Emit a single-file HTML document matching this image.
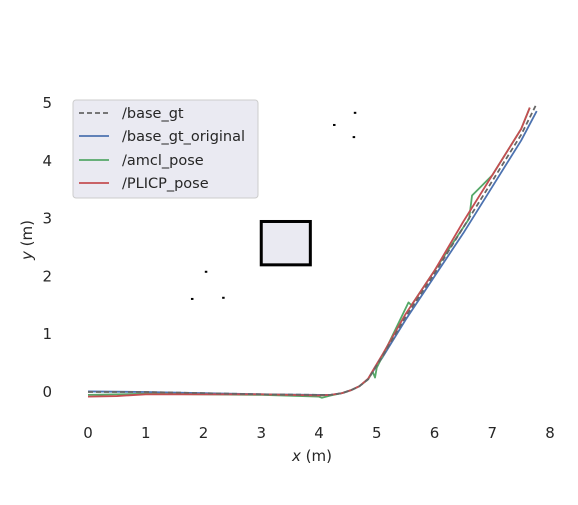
<!DOCTYPE html>
<html><head><meta charset="utf-8"><style>
body{margin:0;background:#fff;}
svg{display:block;font-family:"DejaVu Sans","Liberation Sans",sans-serif;}
</style></head><body>
<svg id="chart" width="578" height="505">
<g id="plot"></g>
<g id="ticks"></g>
<text x="312" y="461" text-anchor="middle" font-size="15" fill="#262626"><tspan font-style="italic">x</tspan> (m)</text>
<text transform="translate(32,240) rotate(-90)" text-anchor="middle" font-size="15" fill="#262626"><tspan font-style="italic">y</tspan> (m)</text>
<g>
<rect x="73" y="100" width="185" height="98" rx="3" fill="#eaeaf2" stroke="#cccccc"/>
<line x1="79" y1="113" x2="109" y2="113" stroke="#666" stroke-width="1.8" stroke-dasharray="5,3"/>
<text x="122" y="118" font-size="14.5" fill="#262626">/base_gt</text>
<line x1="79" y1="136" x2="109" y2="136" stroke="#4c72b0" stroke-width="1.8"/>
<text x="122" y="141" font-size="14.5" fill="#262626">/base_gt_original</text>
<line x1="79" y1="160" x2="109" y2="160" stroke="#55a868" stroke-width="1.8"/>
<text x="122" y="165" font-size="14.5" fill="#262626">/amcl_pose</text>
<line x1="79" y1="183" x2="109" y2="183" stroke="#c44e52" stroke-width="1.8"/>
<text x="122" y="188" font-size="14.5" fill="#262626">/PLICP_pose</text>
</g>
</svg>
<script>
const xTicks=[0,1,2,3,4,5,6,7,8];
const yTicks=[0,1,2,3,4,5];
const gtX=[0,1,2,3,4,4.2,4.4,4.55,4.7,4.85,4.95,5.1,5.5,6,6.5,7,7.5,7.75];
const gtY=[0,0,-0.02,-0.04,-0.05,-0.05,-0.02,0.03,0.1,0.22,0.38,0.62,1.3,2.05,2.85,3.65,4.45,4.95];
const origX=[0,1,2,3,4,4.2,4.4,4.55,4.7,4.85,4.95,5.1,5.5,6,6.5,7,7.5,7.77];
const origY=[0.01,0,-0.02,-0.04,-0.05,-0.05,-0.02,0.03,0.1,0.22,0.38,0.6,1.25,2.0,2.75,3.55,4.35,4.86];
const amclX=[0,1,2,3,4,4.05,4.2,4.4,4.55,4.7,4.85,4.93,4.97,5.0,5.1,5.55,5.6,6,6.6,6.65,6.75,7,7.5,7.65];
const amclY=[-0.05,-0.03,-0.04,-0.05,-0.08,-0.1,-0.06,-0.02,0.03,0.1,0.22,0.35,0.25,0.42,0.62,1.55,1.5,2.1,3.0,3.4,3.5,3.75,4.55,4.92];
const plicpX=[0,0.5,1,2,3,4,4.2,4.4,4.55,4.7,4.85,4.95,5.1,5.5,6,6.5,7,7.5,7.65];
const plicpY=[-0.08,-0.07,-0.04,-0.04,-0.04,-0.06,-0.05,-0.02,0.03,0.1,0.23,0.4,0.65,1.35,2.1,2.95,3.75,4.55,4.92];
const dotX=[4.26,4.62,4.6,2.04,1.8,2.34];
const dotY=[4.62,4.83,4.41,2.08,1.61,1.63];
const obsX=[3.0,3.85];
const obsY=[2.2,2.95];
const sx=v=>88+v*57.75, sy=v=>392-v*57.8;
const NS="http://www.w3.org/2000/svg";
const plot=document.getElementById('plot'), ticks=document.getElementById('ticks');
function mk(tag,attrs,parent){const e=document.createElementNS(NS,tag);for(const k in attrs)e.setAttribute(k,attrs[k]);parent.appendChild(e);return e;}
const ob=mk('rect',{x:sx(obsX[0]),y:sy(obsY[1]),width:sx(obsX[1])-sx(obsX[0]),height:sy(obsY[0])-sy(obsY[1]),fill:'#eaeaf2',stroke:'#000','stroke-width':3},plot);


dotX.forEach((x,i)=>{const d=mk('rect',{x:sx(x)-1,y:sy(dotY[i])-1,width:2.5,height:2,fill:'#000'},plot);

});
function line(xs,ys,color,name,dash){const p=mk('polyline',{points:xs.map((x,i)=>sx(x)+','+sy(ys[i])).join(' '),fill:'none',stroke:color,'stroke-width':1.8,'stroke-linejoin':'round'},plot);
if(dash)p.setAttribute('stroke-dasharray',dash);

}
line(origX,origY,'#4c72b0','series-base-gt-original');
line(amclX,amclY,'#55a868','series-amcl-pose');
line(plicpX,plicpY,'#c44e52','series-plicp-pose');
line(gtX,gtY,'#666666','series-base-gt','5,3');
xTicks.forEach(t=>{const e=mk('text',{x:sx(t),y:438,'text-anchor':'middle','font-size':15,fill:'#262626'},ticks);e.textContent=t;

});
yTicks.forEach(t=>{const e=mk('text',{x:52,y:sy(t)+5,'text-anchor':'end','font-size':15,fill:'#262626'},ticks);e.textContent=t;

});
</script>
</body></html>
